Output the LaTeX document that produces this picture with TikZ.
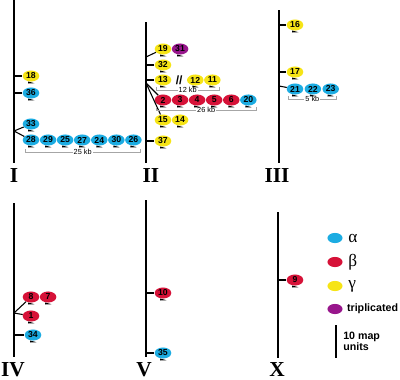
\documentclass[tikz,border=0pt]{standalone}
\usepackage{fontspec}
\setmainfont{Liberation Serif}
\setsansfont{Liberation Sans}
\usetikzlibrary{positioning,shapes.geometric}
\definecolor{acol}{RGB}{28,172,226}
\definecolor{bcol}{RGB}{214,18,56}
\definecolor{gcol}{RGB}{246,228,22}
\definecolor{tcol}{RGB}{152,22,140}

\begin{document}
\begin{tikzpicture}[x=0.75pt, y=-0.75pt, node distance=0pt,
  gene/.style={ellipse, minimum width=12.4pt, minimum height=8.3pt, inner sep=0pt, font=\sffamily\bfseries\fontsize{6.5}{7}\selectfont},
  agene/.style={gene, fill=acol},
  bgene/.style={gene, fill=bcol},
  ggene/.style={gene, fill=gcol},
  tgene/.style={gene, fill=tcol},
  chr/.style={line width=2.2pt},
  tick/.style={line width=0.8pt},
  kb/.style={draw=gray!70, line width=0.4pt},
  kbl/.style={fill=white, inner sep=0.8pt, font=\sffamily\fontsize{5.5}{6}\selectfont},
  num/.style={anchor=base, inner sep=0pt, font=\bfseries\fontsize{16}{16}\selectfont},
  key/.style={ellipse, minimum width=11.3pt, minimum height=7.6pt, inner sep=0pt},
  keyl/.style={inner sep=1pt, font=\fontsize{13}{13}\selectfont}]
\useasboundingbox (0,0) rectangle (400,379);

% chromosomes
\coordinate (Itop) at (14,0);    \coordinate (Ibot) at (14,163);
\coordinate (IItop) at (146,22); \coordinate (IIbot) at (146,163);
\coordinate (IIItop) at (279,10); \coordinate (IIIbot) at (279,163);
\coordinate (IVtop) at (14,203); \coordinate (IVbot) at (14,357);
\coordinate (Vtop) at (146,200); \coordinate (Vbot) at (146,357);
\coordinate (Xtop) at (278,212); \coordinate (Xbot) at (278,358);
\foreach \c in {I,II,III,IV,V,X}
  \draw[chr] (\c top) -- (\c bot);

\node[num] (lI) at (14,182) {I};
\node[num] (lII) at (151,182) {II};
\node[num] (lIII) at (277,182) {III};
\node[num] (lIV) at (13,376) {IV};
\node[num] (lV) at (144,376) {V};
\node[num] (lX) at (277,376) {X};

% chromosome I
\node[ggene] (18) at (31,76) {18};
\node[agene] (36) at (31,93) {36};
\node[agene] (33) at (31,124) {33};
\node[agene] (28) at (31,140) {28};
\node[agene] (29) [right=of 28] {29};
\node[agene] (25) [right=of 29] {25};
\node[agene] (27) [right=of 25] {27};
\node[agene] (24) [right=of 27] {24};
\node[agene] (30) [right=of 24] {30};
\node[agene] (26) [right=of 30] {26};
\coordinate (brI) at (14,131);
\draw[tick] (Itop |- 18) -- (18);
\draw[tick] (Itop |- 36) -- (36);
\draw[tick] (brI) -- (33);
\draw[tick] (brI) -- (28);
\draw[kb] ([shift={(-6,9)}]28.center) -- ++(0,3) -- node[kbl] {25 kb} ([shift={(7,12)}]26.center) -- ++(0,-3);

% chromosome II
\node[ggene] (19) at (163,49) {19};
\node[tgene] (31) [right=of 19] {31};
\node[ggene] (32) at (163,65) {32};
\node[ggene] (13) at (163,80) {13};
\node[font=\sffamily\bfseries\fontsize{9}{9}\selectfont, inner sep=0pt] (brk) [right=3pt of 13] {//};
\node[ggene] (12) [right=3pt of brk] {12};
\node[ggene] (11) [right=of 12] {11};
\node[bgene] (2) at (163,100) {2};
\node[bgene] (3) [right=of 2] {3};
\node[bgene] (4) [right=of 3] {4};
\node[bgene] (5) [right=of 4] {5};
\node[bgene] (6) [right=of 5] {6};
\node[agene] (20) [right=of 6] {20};
\node[ggene] (15) at (163,120) {15};
\node[ggene] (14) [right=of 15] {14};
\node[ggene] (37) at (163,141) {37};
\coordinate (brIIa) at (146,57);
\coordinate (brIIb) at (146,83);
\draw[tick] (brIIa) -- (19);
\draw[tick] (IItop |- 32) -- (32);
\draw[tick] (IItop |- 13) -- (13);
\draw[tick] (brIIb) -- (2);
\draw[tick] (brIIb) -- (15);
\draw[tick] (IItop |- 37) -- (37);
\draw[kb] ([shift={(-7,7)}]13.center) -- ++(0,3) -- node[kbl] {12 kb} ([shift={(7,10)}]11.center) -- ++(0,-3);
\draw[kb] ([shift={(-7,7)}]2.center) -- ++(0,3) -- node[kbl] {26 kb} ([shift={(8,10)}]20.center) -- ++(0,-3);

% chromosome III
\node[ggene] (16) at (295,25) {16};
\node[ggene] (17) at (295,72) {17};
\node[agene] (21) at (295,89) {21};
\node[agene] (22) [right=0.6pt of 21] {22};
\node[agene] (23) [right=0.6pt of 22] {23};
\coordinate (brIII) at (279,86);
\draw[tick] (IIItop |- 16) -- (16);
\draw[tick] (IIItop |- 17) -- (17);
\draw[tick] (brIII) -- (21);
\draw[kb] ([shift={(-7,7)}]21.center) -- ++(0,3) -- node[kbl] {5 kb} ([shift={(6,10)}]23.center) -- ++(0,-3);

% chromosome IV
\node[bgene] (8) at (31,297) {8};
\node[bgene] (7) [right=of 8] {7};
\node[bgene] (1) at (31,316) {1};
\node[agene] (34) at (33,335) {34};
\coordinate (brIV) at (14,313);
\draw[tick] (brIV) -- (8);
\draw[tick] (brIV) -- (1);
\draw[tick] (IVtop |- 34) -- (34);

% chromosome V
\node[bgene] (10) at (163,293) {10};
\node[agene] (35) at (163,353) {35};
\draw[tick] (Vtop |- 10) -- (10);
\draw[tick] (Vtop |- 35) -- (35);

% chromosome X
\node[bgene] (9) at (295,280) {9};
\draw[tick] (Xtop |- 9) -- (9);

% orientation
\foreach \g in {18,36,33,28,29,25,27,24,30,26,19,31,32,13,12,11,2,3,4,5,6,20,15,14,37,16,17,21,22,23,8,7,1,34,10,35,9}
  \fill ([shift={(-3,5.5)}]\g.center) -- ++(0,2) -- ++(6.5,-0.3) -- cycle;

% key
\node[key, fill=acol] (ka) at (335,238) {};
\node[key, fill=bcol] (kb) at (335,262) {};
\node[key, fill=gcol] (kg) at (335,286) {};
\node[key, fill=tcol] (kt) at (335,309) {};
\node[keyl] [right=3pt of ka] {α};
\node[keyl] [right=3pt of kb] {β};
\node[keyl] [right=3pt of kg] {γ};
\node[inner sep=1pt, font=\sffamily\bfseries\fontsize{8}{8}\selectfont] [right=2pt of kt] {triplicated};
\coordinate (s1) at (336,325);
\coordinate (s2) at (336,358);
\draw[line width=1.6pt] (s1) -- (s2);
\node[anchor=west, align=left, inner sep=0pt, font=\sffamily\bfseries\fontsize{8}{8.5}\selectfont] (sl) at (343,341) {10 map\\units};
\end{tikzpicture}
\end{document}
